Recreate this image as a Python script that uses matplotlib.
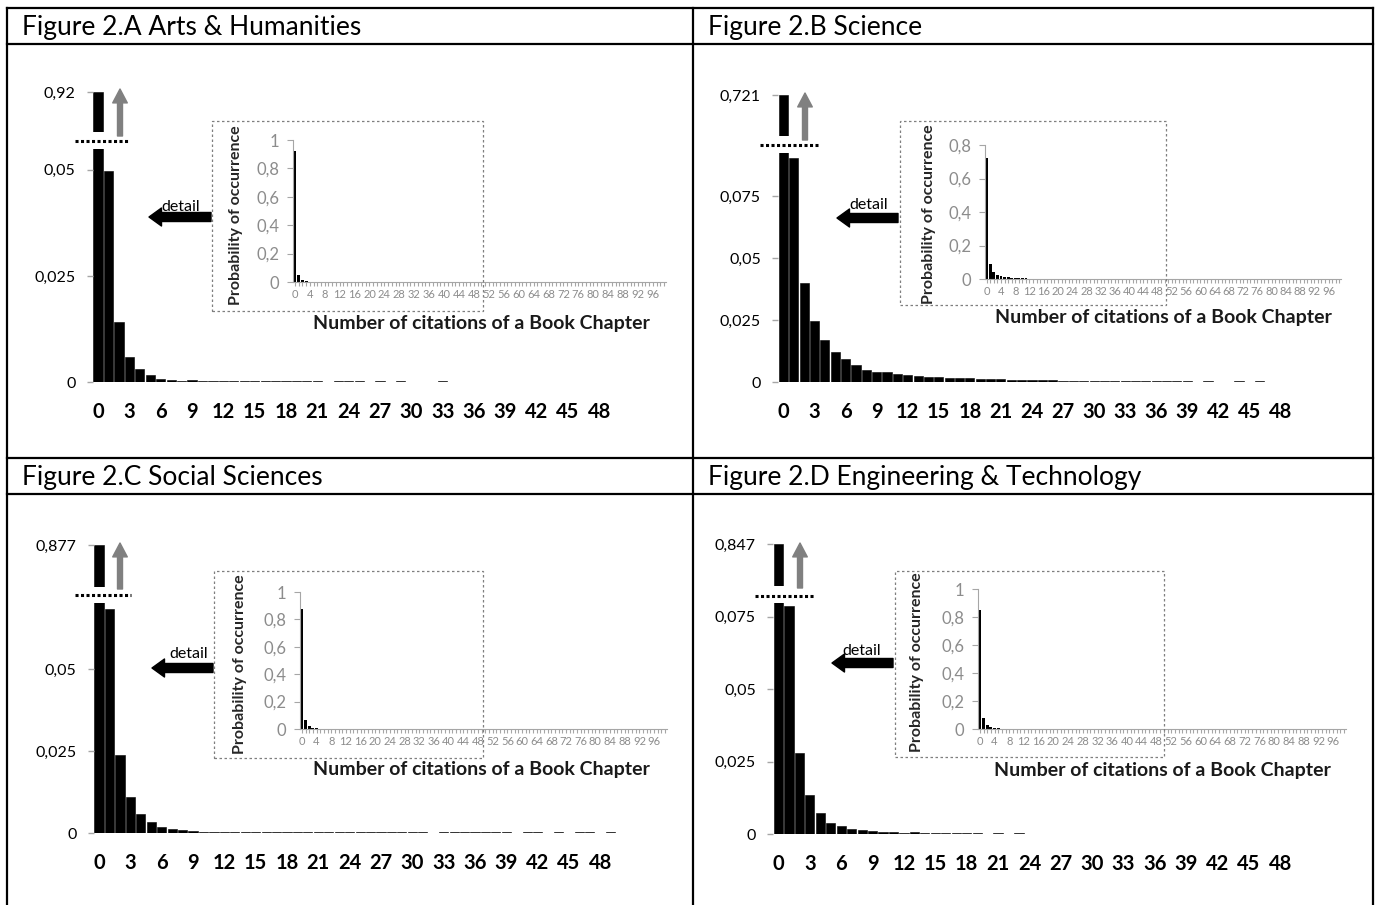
import matplotlib
matplotlib.use('Agg')
import matplotlib.pyplot as plt
from matplotlib.lines import Line2D
from matplotlib.patches import Rectangle
from matplotlib.ticker import FuncFormatter

plt.rcParams['font.family'] = ['Lato', 'DejaVu Sans']

W, H = 1377, 905

# ======================== DATA ========================
# probability of occurrence by number of citations (0..49)
titles = ['Figure 2.A Arts & Humanities', 'Figure 2.B Science',
          'Figure 2.C Social Sciences', 'Figure 2.D Engineering & Technology']

arts = [0.92, 0.0498, 0.0141, 0.0059, 0.0031, 0.0016, 0.0008, 0.0005, 0.0003, 0.0005,
        0.0003, 0.0002, 0.0002, 0.0002, 0.0002, 0.0002, 0.0002, 0.0002, 0.0002, 0.0002,
        0.0002, 0.0002, 0, 0.0002, 0.0002, 0.0002, 0, 0.0002, 0, 0.0002,
        0, 0, 0, 0.0002, 0, 0, 0, 0, 0, 0,
        0, 0, 0, 0, 0, 0, 0, 0, 0, 0]
science = [0.721, 0.0903, 0.0401, 0.0246, 0.0168, 0.0120, 0.0094, 0.0067, 0.0050, 0.0042,
           0.0040, 0.0031, 0.0029, 0.0026, 0.0022, 0.0021, 0.0017, 0.0015, 0.0017, 0.0012,
           0.0011, 0.0011, 0.0010, 0.0009, 0.0008, 0.0008, 0.0007, 0.0006, 0.0006, 0.0005,
           0.0005, 0.0004, 0.0003, 0.0003, 0.0003, 0.0003, 0.0003, 0.0003, 0.0003, 0.0003,
           0, 0.0003, 0, 0, 0.0003, 0, 0.0003, 0, 0, 0]
social = [0.877, 0.0686, 0.0237, 0.0109, 0.0058, 0.0033, 0.0019, 0.0013, 0.0009, 0.0006,
          0.0004, 0.0002, 0.0002, 0.0002, 0.0002, 0.0002, 0.0002, 0.0002, 0.0002, 0.0002,
          0.0002, 0.0002, 0.0002, 0.0002, 0.0002, 0.0002, 0.0002, 0.0002, 0.0002, 0.0002,
          0.0002, 0.0002, 0, 0.0002, 0.0002, 0.0002, 0.0002, 0.0002, 0.0002, 0.0002,
          0, 0.0002, 0.0002, 0, 0.0002, 0, 0.0002, 0.0002, 0, 0.0002]
engineering = [0.847, 0.0785, 0.0278, 0.0133, 0.0074, 0.0039, 0.0028, 0.0016, 0.0014, 0.0010,
               0.0008, 0.0006, 0.0005, 0.0007, 0.0002, 0.0002, 0.0002, 0.0002, 0.0002, 0.0002,
               0, 0.0002, 0, 0.0002, 0, 0, 0, 0, 0, 0,
               0, 0, 0, 0, 0, 0, 0, 0, 0, 0,
               0, 0, 0, 0, 0, 0, 0, 0, 0, 0]
# the inset runs to 99 citations, nothing visible past 49
tail = [0] * 50

series = [arts, science, social, engineering]
break_at = [0.0549, 0.0923, 0.0703, 0.0797]   # where the first bar is cut
main_ticks = [[0, 0.025, 0.05], [0, 0.025, 0.05, 0.075],
              [0, 0.025, 0.05], [0, 0.025, 0.05, 0.075]]
inset_ticks = [[0, 0.2, 0.4, 0.6, 0.8, 1], [0, 0.2, 0.4, 0.6, 0.8],
               [0, 0.2, 0.4, 0.6, 0.8, 1], [0, 0.2, 0.4, 0.6, 0.8, 1]]
main_xticks = list(range(0, 49, 3))
inset_xlabels = [str(i) if i % 4 == 0 else '' for i in range(100)]

# ======================== LAYOUT (pixels) ========================
layout = [
    dict(head=(22, 27), main=(92.8, 149, 615, 382), upper=(92.8, 92, 615, 132),
         dots=(75, 130, 141), uparrow=(120, 136, 89), rect=(212, 121, 483, 311),
         inset=(293, 140, 666, 282), ylab=(236, 215), xlab=(481, 323),
         detail=(211, 149, 217), dtext=(181, 207)),
    dict(head=(708, 27), main=(778.3, 153, 1296, 382), upper=(778.3, 95, 1296, 136),
         dots=(760, 818, 145), uparrow=(805, 140, 93), rect=(900, 121, 1166, 305),
         inset=(985, 145, 1341, 279), ylab=(929, 214), xlab=(1163, 318),
         detail=(898, 837, 218), dtext=(869, 205)),
    dict(head=(22, 477), main=(93.8, 603, 616, 833), upper=(93.8, 545, 616, 587),
         dots=(75, 131, 595), uparrow=(120, 589, 543), rect=(214, 571, 483, 758),
         inset=(300, 592, 667, 729), ylab=(240, 664), xlab=(481, 769),
         detail=(213, 152, 668), dtext=(189, 654)),
    dict(head=(708, 477), main=(773.3, 603, 1296, 834), upper=(773.3, 544, 1296, 586),
         dots=(755, 815, 596), uparrow=(800, 588, 543), rect=(895, 571, 1164, 757),
         inset=(978, 589, 1346, 729), ylab=(917, 662), xlab=(1162, 770),
         detail=(893, 832, 663), dtext=(862, 651)),
]


def box(x0, y0, x1, y1):
    return [x0 / W, 1 - y1 / H, (x1 - x0) / W, (y1 - y0) / H]


def comma(v, pos=None):
    return ('%g' % v).replace('.', ',')


def fline(xs, ys, **kw):
    fig.add_artist(Line2D([x / W for x in xs], [1 - y / H for y in ys],
                          transform=fig.transFigure, **kw))


fig = plt.figure(figsize=(W / 100, H / 100), dpi=100)

# table frame
for y in [8, 44, 458, 494]:
    fline([7, 1373], [y, y], color='black', lw=1.6)
for x in [7, 693, 1373]:
    fline([x, x], [8, 905], color='black', lw=1.6)

gray = '#8c8c8c'
tickgray = '#a6a6a6'

for k in range(4):
    L = layout[k]
    vals = series[k]
    cats = list(range(len(vals)))
    fig.text(L['head'][0] / W, 1 - L['head'][1] / H, titles[k], fontsize=19,
             va='center', ha='left')

    # lower part of the broken axis
    ax = fig.add_axes(box(*L['main']))
    ax.patch.set_visible(False)
    ax.bar(cats, vals, width=0.88, color='black', edgecolor='black', lw=0.4)
    ax.set_xlim(-0.5, 49.5)
    ax.set_ylim(0, break_at[k])
    ax.set_yticks(main_ticks[k])
    ax.yaxis.set_major_formatter(FuncFormatter(comma))
    ax.set_xticks(main_xticks)
    ax.set_xticklabels([str(t) for t in main_xticks], fontweight='bold', fontsize=14.5)
    for s in ax.spines.values():
        s.set_visible(False)
    ax.tick_params(axis='x', length=0, pad=14.5)
    ax.tick_params(axis='y', length=4.5, color=tickgray, width=1, pad=8, labelsize=11.5)

    # upper part, only the top of the first bar
    ax2 = fig.add_axes(box(*L['upper']))
    ax2.patch.set_visible(False)
    ax2.bar(cats, vals, width=0.88, color='black', edgecolor='black', lw=0.4)
    ax2.set_xlim(-0.5, 49.5)
    ax2.set_ylim(vals[0] - 0.05, vals[0])
    ax2.set_yticks([vals[0]])
    ax2.yaxis.set_major_formatter(FuncFormatter(comma))
    ax2.set_xticks([])
    for s in ax2.spines.values():
        s.set_visible(False)
    ax2.tick_params(axis='y', length=4.5, color=tickgray, width=1, pad=8, labelsize=11.5)

    # break marker and arrows
    x0, x1, yd = L['dots']
    fline([x0, x1], [yd, yd], color='black', lw=2.2, ls=(0, (1, 0.8)))
    xa, yb, yt = L['uparrow']
    ax2.annotate('', xy=(xa, H - yt), xycoords='figure pixels',
                 xytext=(xa, H - yb), textcoords='figure pixels', annotation_clip=False,
                 arrowprops=dict(arrowstyle='simple,head_width=10.5,head_length=10,tail_width=3.6',
                                 mutation_scale=1, color='#808080', shrinkA=0, shrinkB=0))
    xt, xh, yy = L['detail']
    ax.annotate('', xy=(xh, H - yy), xycoords='figure pixels',
                xytext=(xt, H - yy), textcoords='figure pixels', annotation_clip=False,
                arrowprops=dict(arrowstyle='simple,head_width=13,head_length=9,tail_width=6.5',
                                mutation_scale=1, color='black', shrinkA=0, shrinkB=0))
    fig.text(L['dtext'][0] / W, 1 - L['dtext'][1] / H, 'detail', fontsize=11.5,
             ha='center', va='center')

    # inset with the whole range
    r = L['rect']
    fig.add_artist(Rectangle((r[0] / W, 1 - r[3] / H), (r[2] - r[0]) / W, (r[3] - r[1]) / H,
                             transform=fig.transFigure, fill=False, ec='#7f7f7f',
                             lw=0.9, ls=(0, (2, 2))))
    ins = fig.add_axes(box(*L['inset']))
    ins.patch.set_visible(False)
    full = vals + tail
    ins.bar(list(range(100)), full, width=0.8, color='black')
    ins.set_xlim(-0.5, 99.5)
    ins.set_ylim(0, inset_ticks[k][-1])
    ins.set_yticks(inset_ticks[k])
    ins.yaxis.set_major_formatter(FuncFormatter(comma))
    ins.set_xticks(list(range(100)))
    ins.set_xticklabels(inset_xlabels, fontsize=8, color=gray)
    ins.spines['top'].set_visible(False)
    ins.spines['right'].set_visible(False)
    ins.spines['left'].set_color(tickgray)
    ins.spines['bottom'].set_color(tickgray)
    ins.tick_params(axis='x', length=3, color=tickgray, pad=2)
    ins.tick_params(axis='y', length=4, color=tickgray, pad=6, labelsize=12, labelcolor=gray)
    fig.text(L['ylab'][0] / W, 1 - L['ylab'][1] / H, 'Probability of occurrence',
             rotation=90, fontsize=11.5, fontweight='bold', color='#262626',
             ha='center', va='center')
    fig.text(L['xlab'][0] / W, 1 - L['xlab'][1] / H, 'Number of citations of a Book Chapter',
             fontsize=14, fontweight='bold', color='#1a1a1a', ha='center', va='center')

fig.savefig('out.png', dpi=100)
